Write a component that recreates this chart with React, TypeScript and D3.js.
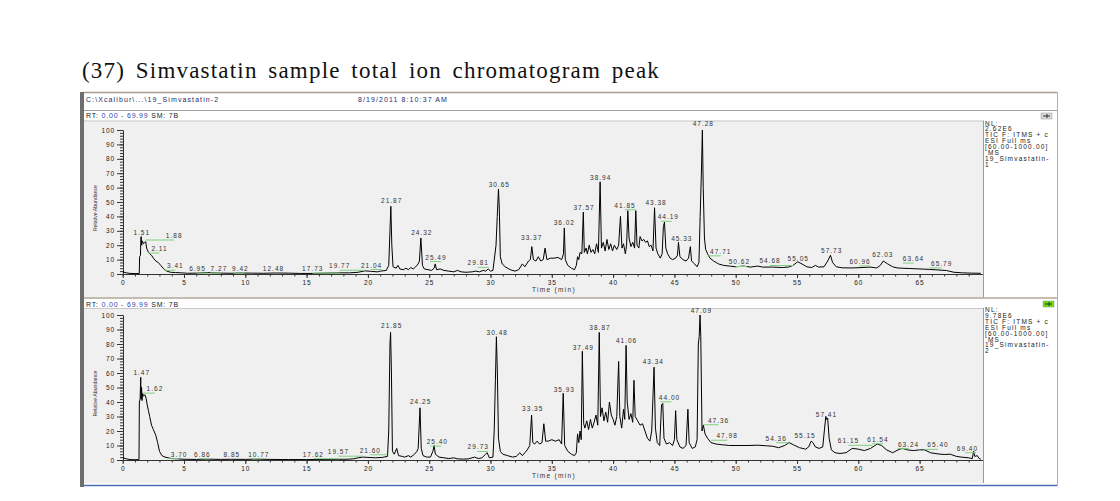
import { useEffect, useRef } from 'react'
import * as d3 from 'd3'

type Pt = [number, number]
interface PeakLabel { text: string; t: number; at: number; lvl: number; lead?: boolean }

const rtMax = 69.99
const yTickVals = [0, 10, 20, 30, 40, 50, 60, 70, 80, 90, 100]
const xTickVals = [0, 5, 10, 15, 20, 25, 30, 35, 40, 45, 50, 55, 60, 65]

const infoTop = ['NL:', '2.62E6', 'TIC F: ITMS + c', 'ESI Full ms', '[60.00-1000.00]', ' MS', '19_Simvastatin-', '1']
const infoBottom = ['NL:', '9.78E6', 'TIC F: ITMS + c', 'ESI Full ms', '[60.00-1000.00]', ' MS', '19_Simvastatin-', '2']

// sample 1 (top) TIC, [RT min, relative abundance %]
const topTrace: Pt[] = [
  [0, 1.5], [0.3, 0.8], [0.6, 0.4], [1.0, 0.3], [1.35, 0.3], [1.38, 12], [1.45, 13], [1.48, 25], [1.51, 26], [1.55, 20],
  [1.6, 23], [1.7, 21], [1.8, 22], [1.88, 22.5], [1.95, 18], [2.05, 16], [2.11, 15], [2.2, 14], [2.35, 13], [2.5, 11],
  [2.7, 9], [2.9, 8], [3.1, 6], [3.3, 4], [3.41, 3], [3.6, 2], [3.9, 1.2], [4.3, 1.0], [4.8, 0.8], [5.3, 0.5],
  [6.0, 0.6], [6.95, 1.0], [7.27, 0.8], [8.0, 0.6], [9.0, 0.5], [9.42, 0.7], [10.5, 0.6], [11.5, 0.5], [12.48, 0.7], [13.5, 0.6],
  [14.5, 0.4], [15.5, 0.4], [16.5, 0.6], [17.73, 0.8], [18.5, 0.8], [19.2, 1.2], [19.77, 2.2], [20.3, 1.8], [20.8, 1.5], [21.04, 2],
  [21.5, 2.5], [21.7, 6], [21.8, 30], [21.87, 47], [21.95, 20], [22.05, 5], [22.3, 4], [22.45, 6], [22.6, 3.5], [22.9, 3],
  [23.1, 4], [23.3, 3], [23.5, 4.5], [23.7, 3.5], [23.9, 5], [24.1, 7], [24.2, 9], [24.32, 25], [24.45, 6], [24.6, 3.5],
  [24.9, 3], [25.2, 2.5], [25.4, 4], [25.49, 7], [25.6, 3], [25.9, 3.5], [26.2, 2.5], [26.6, 2], [27.0, 1.5], [27.3, 2.5],
  [27.6, 1.5], [28.0, 1.2], [28.5, 1.5], [28.8, 2], [29.1, 1.5], [29.4, 2.5], [29.6, 2], [29.81, 3.5], [30.0, 2], [30.2, 2.5],
  [30.45, 20], [30.55, 40], [30.65, 59], [30.72, 45], [30.8, 12], [30.95, 7], [31.2, 5], [31.6, 3], [32.0, 2], [32.3, 3],
  [32.6, 7], [32.8, 5], [33.1, 9], [33.25, 10], [33.37, 19], [33.5, 10], [33.7, 9], [33.9, 12], [34.1, 9], [34.3, 10],
  [34.45, 18], [34.6, 10], [34.9, 11], [35.2, 11], [35.5, 11.5], [35.8, 10], [35.95, 14], [36.02, 32], [36.1, 10], [36.3, 6],
  [36.6, 4], [36.85, 3], [37.0, 6], [37.1, 12], [37.2, 10], [37.3, 15], [37.45, 14], [37.57, 43], [37.65, 15], [37.8, 18],
  [37.9, 14], [38.05, 20], [38.2, 15], [38.35, 17], [38.5, 14], [38.65, 21], [38.8, 15], [38.94, 64], [39.05, 18], [39.2, 22],
  [39.35, 16], [39.5, 24], [39.65, 17], [39.8, 21], [39.95, 16], [40.1, 20], [40.3, 17], [40.45, 20], [40.6, 40], [40.72, 18],
  [40.85, 21], [41.0, 14], [41.1, 20], [41.2, 44], [41.3, 25], [41.45, 19], [41.6, 22], [41.75, 18], [41.85, 44], [41.95, 20],
  [42.1, 18], [42.2, 26], [42.35, 23], [42.5, 24], [42.65, 22], [42.8, 23], [42.95, 19], [43.1, 20], [43.25, 16], [43.38, 46],
  [43.5, 18], [43.65, 14], [43.85, 11], [44.0, 14], [44.1, 33], [44.19, 36], [44.3, 18], [44.45, 14], [44.65, 11], [44.85, 10],
  [45.1, 11], [45.25, 13], [45.33, 22], [45.45, 12], [45.7, 10], [45.95, 9], [46.15, 11], [46.3, 19], [46.4, 9], [46.65, 7],
  [46.85, 5], [47.0, 8], [47.1, 40], [47.2, 70], [47.28, 100], [47.35, 60], [47.45, 25], [47.55, 17], [47.71, 14], [47.9, 11],
  [48.2, 9], [48.6, 7], [49.0, 6], [49.5, 5.5], [50.0, 5], [50.62, 5.5], [51.2, 4.8], [51.8, 5.5], [52.2, 4.8], [53.0, 4.8],
  [53.8, 4.5], [54.3, 4.8], [54.68, 6], [55.05, 8.5], [55.4, 7], [55.8, 5], [56.2, 4.5], [56.5, 6], [56.75, 4.8], [57.2, 5],
  [57.5, 9], [57.73, 13], [57.9, 8], [58.2, 5], [58.7, 4.3], [59.5, 4.2], [60.3, 4.5], [60.96, 4.8], [61.5, 4.2], [61.8, 6],
  [62.03, 9], [62.4, 7], [62.8, 5], [63.2, 4.2], [63.64, 4], [64.2, 3.8], [64.8, 3.6], [65.3, 3.4], [65.79, 3.2], [66.5, 2.8],
  [67.2, 2.4], [67.8, 1.2], [68.5, 0.8], [69.2, 0.6], [69.99, 0.5],
]

// sample 2 (bottom) TIC
const bottomTrace: Pt[] = [
  [0, 1.5], [0.3, 0.8], [0.6, 0.3], [1.0, 0.2], [1.33, 0.2], [1.36, 40], [1.42, 42], [1.47, 57], [1.5, 42], [1.54, 50],
  [1.58, 41], [1.62, 46], [1.7, 44], [1.8, 45], [1.9, 43], [2.0, 38], [2.1, 34], [2.2, 30], [2.35, 24], [2.5, 21],
  [2.7, 17], [2.85, 12], [3.0, 6], [3.2, 3], [3.45, 2], [3.7, 1.5], [4.0, 1], [4.5, 0.8], [5.0, 0.5], [6.0, 0.4],
  [6.86, 0.6], [8.0, 0.4], [8.85, 0.5], [10.0, 0.4], [10.77, 0.6], [12, 0.4], [13.5, 0.3], [15, 0.3], [16.5, 0.4], [17.62, 0.5],
  [18.3, 0.5], [18.8, 0.8], [19.2, 1.5], [19.57, 2], [20.0, 1.8], [20.6, 1.5], [21.2, 1.8], [21.6, 2.5], [21.7, 20], [21.8, 80],
  [21.85, 88], [21.92, 60], [22.0, 6], [22.15, 4], [22.35, 8], [22.5, 3], [22.8, 2.5], [23.0, 2], [23.3, 3], [23.5, 2],
  [23.8, 4], [24.0, 6], [24.1, 8], [24.25, 36], [24.35, 8], [24.5, 3], [24.8, 2], [25.1, 2], [25.3, 6], [25.4, 10],
  [25.5, 4], [25.8, 2], [26.2, 1.5], [26.6, 1], [27.0, 1.5], [27.3, 0.8], [27.8, 0.6], [28.2, 0.8], [28.7, 2], [29.0, 1],
  [29.3, 1.5], [29.6, 4], [29.73, 5], [29.9, 1.5], [30.2, 2], [30.3, 20], [30.4, 55], [30.48, 85], [30.56, 60], [30.65, 15],
  [30.8, 6], [31.0, 4], [31.4, 3], [31.8, 2], [32.1, 2.5], [32.4, 5], [32.6, 3], [32.8, 5], [33.0, 7], [33.2, 10],
  [33.35, 31], [33.45, 12], [33.6, 11], [33.8, 13], [34.0, 11], [34.2, 12], [34.35, 25], [34.5, 13], [34.7, 13], [35.0, 14],
  [35.3, 13], [35.6, 14], [35.8, 11], [35.93, 46], [36.05, 10], [36.3, 6], [36.6, 4], [36.85, 3], [37.0, 5], [37.1, 18],
  [37.2, 12], [37.3, 20], [37.4, 14], [37.49, 75], [37.6, 25], [37.7, 22], [37.85, 27], [38.0, 21], [38.15, 28], [38.3, 22],
  [38.45, 26], [38.6, 31], [38.75, 24], [38.87, 88], [38.97, 30], [39.1, 36], [39.25, 27], [39.4, 33], [39.55, 26], [39.7, 40],
  [39.85, 31], [40.0, 28], [40.15, 24], [40.3, 30], [40.45, 68], [40.55, 30], [40.7, 22], [40.85, 35], [40.95, 28], [41.06, 79],
  [41.15, 40], [41.3, 28], [41.45, 32], [41.6, 26], [41.7, 55], [41.8, 30], [42.0, 27], [42.2, 24], [42.4, 25], [42.6, 20],
  [42.8, 15], [43.0, 13], [43.15, 20], [43.34, 64], [43.45, 22], [43.6, 12], [43.8, 10], [43.95, 38], [44.05, 39], [44.15, 15],
  [44.35, 11], [44.6, 12], [44.85, 10], [45.0, 14], [45.1, 34], [45.2, 14], [45.45, 9], [45.7, 8], [45.95, 10], [46.1, 35],
  [46.2, 12], [46.45, 8], [46.7, 9], [46.85, 14], [46.95, 80], [47.02, 85], [47.09, 100], [47.15, 85], [47.25, 20], [47.36, 24],
  [47.5, 18], [47.7, 15], [47.98, 12], [48.4, 11], [48.9, 10.5], [49.5, 10], [50.2, 10], [51, 10], [51.8, 10.2], [52.5, 9.8],
  [53.0, 9.5], [53.5, 8.5], [54.0, 10], [54.36, 12], [54.7, 10.5], [55.2, 8.5], [55.7, 7.5], [55.95, 9], [56.15, 13], [56.3, 12],
  [56.5, 9], [56.8, 8], [57.1, 9], [57.25, 22], [57.35, 30], [57.41, 28], [57.5, 29], [57.62, 15], [57.8, 7], [58.1, 5],
  [58.5, 4.5], [59.0, 5], [59.5, 8], [60.0, 7.5], [60.5, 6.5], [61.0, 8], [61.54, 11], [61.9, 10], [62.3, 7], [62.8, 5],
  [63.24, 7], [63.6, 8], [64.0, 7], [64.5, 6.5], [65.0, 7], [65.4, 7], [65.9, 5], [66.5, 4.2], [67.0, 3.8], [67.5, 4],
  [68.0, 2.5], [68.4, 2], [69.0, 1.5], [69.3, 1], [69.4, 6], [69.5, 2.5], [69.7, 3], [69.85, 1], [69.99, 0.5],
]

const topLabels: PeakLabel[] = [
  { text: '1.51', t: 1.51, at: 1.55, lvl: 27 },
  { text: '1.88', t: 1.88, at: 4.2, lvl: 25, lead: true },
  { text: '2.11', t: 2.11, at: 3.0, lvl: 16, lead: true },
  { text: '3.41', t: 3.41, at: 4.3, lvl: 4, lead: true },
  { text: '6.95', t: 6.95, at: 6.1, lvl: 2, lead: true },
  { text: '7.27', t: 7.27, at: 7.85, lvl: 2, lead: true },
  { text: '9.42', t: 9.42, at: 9.6, lvl: 2, lead: true },
  { text: '12.48', t: 12.48, at: 12.3, lvl: 2 },
  { text: '17.73', t: 17.73, at: 15.5, lvl: 2, lead: true },
  { text: '19.77', t: 19.77, at: 17.7, lvl: 4, lead: true },
  { text: '21.04', t: 21.04, at: 20.3, lvl: 4.5, lead: true },
  { text: '21.87', t: 21.87, at: 21.94, lvl: 49 },
  { text: '24.32', t: 24.32, at: 24.4, lvl: 27 },
  { text: '25.49', t: 25.49, at: 25.55, lvl: 10, lead: true },
  { text: '29.81', t: 29.81, at: 29.0, lvl: 6, lead: true },
  { text: '30.65', t: 30.65, at: 30.72, lvl: 60.5 },
  { text: '33.37', t: 33.37, at: 33.36, lvl: 23.5 },
  { text: '36.02', t: 36.02, at: 36.02, lvl: 34 },
  { text: '37.57', t: 37.57, at: 37.63, lvl: 44.5 },
  { text: '38.94', t: 38.94, at: 38.99, lvl: 65.5 },
  { text: '41.85', t: 41.85, at: 40.97, lvl: 46, lead: true },
  { text: '43.38', t: 43.38, at: 43.5, lvl: 48 },
  { text: '44.19', t: 44.19, at: 44.5, lvl: 38, lead: true },
  { text: '45.33', t: 45.33, at: 45.6, lvl: 23 },
  { text: '47.28', t: 47.28, at: 47.36, lvl: 102.5 },
  { text: '47.71', t: 47.71, at: 48.78, lvl: 14, lead: true },
  { text: '50.62', t: 50.62, at: 50.3, lvl: 6.6, lead: true },
  { text: '54.68', t: 54.68, at: 52.8, lvl: 7.3, lead: true },
  { text: '55.05', t: 55.05, at: 55.1, lvl: 9 },
  { text: '57.73', t: 57.73, at: 57.83, lvl: 14.6 },
  { text: '60.96', t: 60.96, at: 60.14, lvl: 7, lead: true },
  { text: '62.03', t: 62.03, at: 62.0, lvl: 11.8 },
  { text: '63.64', t: 63.64, at: 64.5, lvl: 9, lead: true },
  { text: '65.79', t: 65.79, at: 66.8, lvl: 5.6, lead: true },
]

const bottomLabels: PeakLabel[] = [
  { text: '1.47', t: 1.47, at: 1.55, lvl: 58.5 },
  { text: '1.62', t: 1.62, at: 2.63, lvl: 47.5, lead: true },
  { text: '3.70', t: 3.7, at: 4.6, lvl: 2.3, lead: true },
  { text: '6.86', t: 6.86, at: 6.5, lvl: 2.3, lead: true },
  { text: '8.85', t: 8.85, at: 8.9, lvl: 2.3 },
  { text: '10.77', t: 10.77, at: 11.1, lvl: 2.3, lead: true },
  { text: '17.62', t: 17.62, at: 15.55, lvl: 2.3, lead: true },
  { text: '19.57', t: 19.57, at: 17.6, lvl: 4, lead: true },
  { text: '21.60', t: 21.6, at: 20.2, lvl: 5, lead: true },
  { text: '21.85', t: 21.85, at: 21.94, lvl: 91 },
  { text: '24.25', t: 24.25, at: 24.3, lvl: 38.5 },
  { text: '25.40', t: 25.4, at: 25.66, lvl: 11, lead: true },
  { text: '29.73', t: 29.73, at: 29.0, lvl: 7.3, lead: true },
  { text: '30.48', t: 30.48, at: 30.55, lvl: 86.5 },
  { text: '33.35', t: 33.35, at: 33.44, lvl: 34 },
  { text: '35.93', t: 35.93, at: 36.02, lvl: 47 },
  { text: '37.49', t: 37.49, at: 37.57, lvl: 76 },
  { text: '38.87', t: 38.87, at: 38.93, lvl: 90 },
  { text: '41.06', t: 41.06, at: 41.1, lvl: 81 },
  { text: '43.34', t: 43.34, at: 43.28, lvl: 66.5 },
  { text: '44.00', t: 44.0, at: 44.6, lvl: 41.5, lead: true },
  { text: '47.09', t: 47.09, at: 47.2, lvl: 101.5 },
  { text: '47.36', t: 47.36, at: 48.6, lvl: 25.7, lead: true },
  { text: '47.98', t: 47.98, at: 49.3, lvl: 15, lead: true },
  { text: '54.36', t: 54.36, at: 53.3, lvl: 13.3, lead: true },
  { text: '55.15', t: 55.15, at: 55.66, lvl: 15 },
  { text: '57.41', t: 57.41, at: 57.4, lvl: 30 },
  { text: '61.15', t: 61.15, at: 59.2, lvl: 11.5, lead: true },
  { text: '61.54', t: 61.54, at: 61.6, lvl: 12.6, lead: true },
  { text: '63.24', t: 63.24, at: 64.1, lvl: 9.2, lead: true },
  { text: '65.40', t: 65.4, at: 66.5, lvl: 8.7, lead: true },
  { text: '69.40', t: 69.4, at: 68.9, lvl: 6.4, lead: true },
]

const sans = 'Liberation Sans, Arial, sans-serif'

interface PanelCfg {
  top: number; bottom: number; rtY: number; y0: number; y100: number
  trace: Pt[]; labels: PeakLabel[]; info: string[]; infoY: number; icon: string; iconX: number; iconY: number
}

type Sel = d3.Selection<SVGSVGElement, unknown, null, undefined>

function drawPanel(svg: Sel, x: d3.ScaleLinear<number, number>, c: PanelCfg) {
  const g = svg.append('g')
  const y = d3.scaleLinear().domain([0, 100]).range([c.y0, c.y100])

  g.append('rect').attr('x', 84).attr('y', c.top).attr('width', 983 - 84).attr('height', c.bottom - c.top).attr('fill', '#f0f0f0')
  g.append('line').attr('x1', 84).attr('x2', 983).attr('y1', c.top + 0.5).attr('y2', c.top + 0.5).attr('stroke', '#c8c8c8')
  g.append('line').attr('x1', 983.5).attr('x2', 983.5).attr('y1', c.top).attr('y2', c.bottom).attr('stroke', '#9a9a9a')

  // RT row
  const rt = g.append('text').attr('x', 86).attr('y', c.rtY).attr('font-family', sans).attr('font-size', '7px').attr('letter-spacing', '0.8px')
  rt.append('tspan').attr('fill', '#222').text('RT: ')
  rt.append('tspan').attr('fill', '#3344aa').text('0.00 - 69.99')
  rt.append('tspan').attr('fill', '#222').text('   SM: 7B')

  // axes
  const styleAxis = (s: d3.Selection<SVGGElement, unknown, null, undefined>) => {
    s.select('.domain').attr('stroke', '#333')
    s.selectAll('line').attr('stroke', '#333')
    s.selectAll('text').attr('fill', '#222').attr('font-size', '6.5px').attr('font-family', sans).attr('letter-spacing', '0.9px')
  }
  g.append('g').attr('transform', 'translate(123,0)')
    .call(d3.axisLeft(y).tickValues(d3.range(0, 101, 2)).tickSize(3).tickSizeOuter(0).tickFormat(() => ''))
    .call(styleAxis)
  g.append('g').attr('transform', 'translate(123,0)')
    .call(d3.axisLeft(y).tickValues(yTickVals).tickSize(6).tickPadding(2).tickSizeOuter(0))
    .call(styleAxis)

  g.append('g').attr('transform', `translate(0,${c.y0})`)
    .call(d3.axisBottom(x).tickValues(d3.range(0, 70, 1)).tickSize(2.5).tickSizeOuter(0).tickFormat(() => ''))
    .call(styleAxis)
  g.append('g').attr('transform', `translate(0,${c.y0})`)
    .call(d3.axisBottom(x).tickValues(xTickVals).tickSize(4).tickPadding(2).tickSizeOuter(0).tickFormat(d3.format('d')))
    .call(styleAxis)
  g.append('line').attr('x1', x(rtMax)).attr('x2', 983).attr('y1', c.y0 + 0.5).attr('y2', c.y0 + 0.5).attr('stroke', '#333')

  g.append('text').attr('x', 554).attr('y', c.y0 + 17.5).attr('text-anchor', 'middle')
    .attr('font-family', sans).attr('font-size', '6.5px').attr('letter-spacing', '1.3px').attr('fill', '#333').text('Time (min)')
  const yc = (c.y0 + c.y100) / 2 + 6
  g.append('text').attr('transform', `translate(97,${yc}) rotate(-90)`).attr('text-anchor', 'middle')
    .attr('font-family', sans).attr('font-size', '6px').attr('fill', '#333').attr('textLength', 46).attr('lengthAdjust', 'spacingAndGlyphs')
    .text('Relative Abundance')

  // trace
  const line = d3.line<Pt>().x(d => x(d[0])).y(d => y(d[1]))
  g.append('path').datum(c.trace).attr('fill', 'none').attr('stroke', '#000').attr('stroke-width', 1).attr('d', line)

  // peak labels with green leaders
  const lab = g.append('g')
  c.labels.filter(l => l.lead).forEach(l => {
    let x1 = Math.min(x(l.t), x(l.at)), x2 = Math.max(x(l.t), x(l.at))
    if (x2 - x1 < 11) { const m = (x1 + x2) / 2; x1 = m - 5.5; x2 = m + 5.5 }
    lab.append('line').attr('x1', x1).attr('x2', x2).attr('y1', y(l.lvl) + 2).attr('y2', y(l.lvl) + 2)
      .attr('stroke', '#7fcf7f').attr('stroke-width', 1)
  })
  lab.selectAll('text.pk').data(c.labels).join('text').attr('class', 'pk')
    .attr('x', d => x(d.at)).attr('y', d => y(d.lvl)).attr('text-anchor', 'middle')
    .attr('font-family', sans).attr('font-size', '6.5px').attr('letter-spacing', '1px').attr('fill', '#333')
    .text(d => d.text)

  // info column
  const info = g.append('text').attr('font-family', sans).attr('font-size', '6.5px').attr('fill', '#222').attr('letter-spacing', '1.2px')
  c.info.forEach((s, i) => info.append('tspan').attr('x', 985).attr('y', c.infoY + i * 5.9).text(s))

  // icon
  g.append('rect').attr('x', c.iconX).attr('y', c.iconY).attr('width', 11).attr('height', 6)
    .attr('fill', c.icon).attr('stroke', '#999').attr('stroke-width', 0.5)
  g.append('path').attr('d', `M${c.iconX + 2},${c.iconY + 3}h7M${c.iconX + 6},${c.iconY + 1}v4`).attr('stroke', '#333').attr('stroke-width', 1)
}

export default function App() {
  const ref = useRef<SVGSVGElement>(null)

  useEffect(() => {
    if (!ref.current) return
    const svg = d3.select(ref.current)
    svg.selectAll('*').remove()

    const x = d3.scaleLinear().domain([0, rtMax]).range([122.7, 980.8])

    svg.append('rect').attr('width', 1120).attr('height', 501).attr('fill', '#fff')

    const title = svg.append('text').attr('x', 82).attr('y', 78)
      .attr('font-family', 'Liberation Serif, Times New Roman, serif').attr('font-size', '23px').attr('fill', '#111')
      .attr('letter-spacing', '1.2px')
      .text('(37) Simvastatin sample total ion chromatogram peak')
    const tl = (title.node() as SVGTextElement).getComputedTextLength()
    if (tl > 0 && tl < 578) title.attr('word-spacing', `${(578 - tl) / 6}px`)

    // window frame
    svg.append('line').attr('x1', 83).attr('x2', 1057).attr('y1', 92.5).attr('y2', 92.5).attr('stroke', '#a89c8c').attr('stroke-width', 1.5)
    svg.append('line').attr('x1', 84).attr('x2', 1057).attr('y1', 110.5).attr('y2', 110.5).attr('stroke', '#a0a0a0')
    svg.append('text').attr('x', 86).attr('y', 102).attr('font-family', sans).attr('font-size', '7px').attr('fill', '#1c2a6a').attr('letter-spacing', '1.1px')
      .text('C:\\Xcalibur\\...\\19_Simvastatin-2')
    svg.append('text').attr('x', 358).attr('y', 102).attr('font-family', sans).attr('font-size', '7px').attr('fill', '#1c2a6a').attr('letter-spacing', '1.1px')
      .text('8/19/2011 8:10:37 AM')

    drawPanel(svg, x, {
      top: 120.5, bottom: 297.5, rtY: 118, y0: 274, y100: 130,
      trace: topTrace, labels: topLabels, info: infoTop, infoY: 125.5, icon: '#d8d8d8', iconX: 1041, iconY: 113,
    })
    drawPanel(svg, x, {
      top: 308, bottom: 483, rtY: 306.5, y0: 460, y100: 315,
      trace: bottomTrace, labels: bottomLabels, info: infoBottom, infoY: 312, icon: '#66dd11', iconX: 1043, iconY: 301,
    })

    svg.append('line').attr('x1', 84).attr('x2', 1057).attr('y1', 298).attr('y2', 298).attr('stroke', '#b0a898').attr('stroke-width', 1.5)
    svg.append('line').attr('x1', 80).attr('x2', 1057).attr('y1', 485.5).attr('y2', 485.5).attr('stroke', '#4a6fb5').attr('stroke-width', 1.5)
    svg.append('rect').attr('x', 80).attr('y', 92).attr('width', 4).attr('height', 395).attr('fill', '#6e6e6e')
    svg.append('line').attr('x1', 1057.5).attr('x2', 1057.5).attr('y1', 92).attr('y2', 486).attr('stroke', '#b0b0b0')
  }, [])

  return <svg ref={ref} width={1120} height={501} style={{ position: 'absolute', left: 0, top: 0, display: 'block' }} />
}
